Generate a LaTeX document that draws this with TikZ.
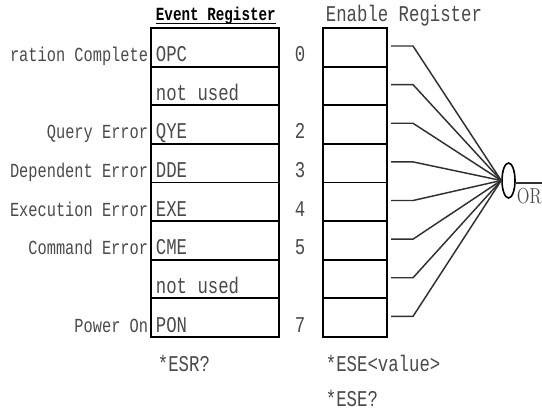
\documentclass[tikz,border=0pt]{standalone}
\usepackage{fontspec}
\usepackage{graphicx}
\setmonofont{Liberation Mono}
\usetikzlibrary{shapes.geometric}
\definecolor{txtgray}{HTML}{4A4A4A}
\definecolor{wiregray}{HTML}{303030}
\newcommand{\tallt}[1]{\scalebox{1}[1.3]{#1}}
\newcommand{\ulin}[1]{\setbox0\hbox{#1}\copy0\kern-\wd0\rule[-2.4pt]{\wd0}{1pt}}

\begin{document}
\begin{tikzpicture}[x=0.75pt,y=-0.75pt,line width=1.4pt,
  evcell/.style={draw=black,minimum width=96pt,minimum height=28.97pt,inner sep=0pt,outer sep=0pt},
  encell/.style={draw=black,minimum width=48pt,minimum height=28.97pt,inner sep=0pt,outer sep=0pt},
  txt/.style={font=\ttfamily\fontsize{13}{15}\selectfont,text=txtgray,inner sep=0pt},
  desc/.style={font=\ttfamily\fontsize{11.5}{13}\selectfont,text=txtgray,inner sep=0pt},
  wire/.style={draw=wiregray,line width=1.1pt},
  orgate/.style={ellipse,draw=black,line width=1.2pt,minimum width=9.75pt,minimum height=26.25pt,inner sep=0pt}]
  \useasboundingbox[fill=white] (0,0) rectangle (542,417);
  % titles
  \node[txt,anchor=base west,text=black] (evtitle) at (155,21)
    {\fontsize{10.7}{13}\selectfont\ulin{\tallt{\textbf{Event Register}}}};
  \node[txt,anchor=base west] (entitle) at (325,22) {\tallt{Enable Register}};
  % OR gate
  \node[orgate] (or) at (508.5,180.5) {};
  \coordinate (orout) at (542,183);
  \draw[wire] (or.east |- orout) -- (orout);
  \node[anchor=base west,inner sep=0pt,font=\fontsize{12.5}{14}\selectfont,text=txtgray] (ortxt) at (516,203) {\tallt{OR}};
  % register rows: bit / code / description / bit number
  \foreach \i/\code/\desc/\bit in {0/OPC/ration Complete/0, 1/not used//, 2/QYE/Query Error/2,
      3/DDE/Dependent Error/3, 4/EXE/Execution Error/4, 5/CME/Command Error/5,
      6/not used//, 7/PON/Power On/7}{
    \node[evcell] (ev\i) at (215,{28+38.625*(\i+0.5)}) {};
    \node[encell] (en\i) at (355,{28+38.625*(\i+0.5)}) {};
    \node[txt,anchor=base west] (code\i) at ([shift={(4,-5)}]ev\i.south west) {\tallt{\code}};
    \node[desc,anchor=base east] (desc\i) at ([shift={(-2,-5)}]ev\i.south west) {\tallt{\desc}};
    \node[txt,anchor=base] (bit\i) at (300,{28+38.625*(\i+1)-5}) {\tallt{\bit}};
    % enable bit to OR gate
    \draw[wire] ([shift={(4,-1.3)}]en\i.east) -- ++(22,0) -- (or.west);
  }
  % commands
  \node[txt,anchor=base west] (esr) at (157,371) {\tallt{*ESR?}};
  \node[txt,anchor=base west] (eseset) at (325,371) {\tallt{*ESE<value>}};
  \node[txt,anchor=base west] (eseq) at (325,406) {\tallt{*ESE?}};
\end{tikzpicture}
\end{document}
